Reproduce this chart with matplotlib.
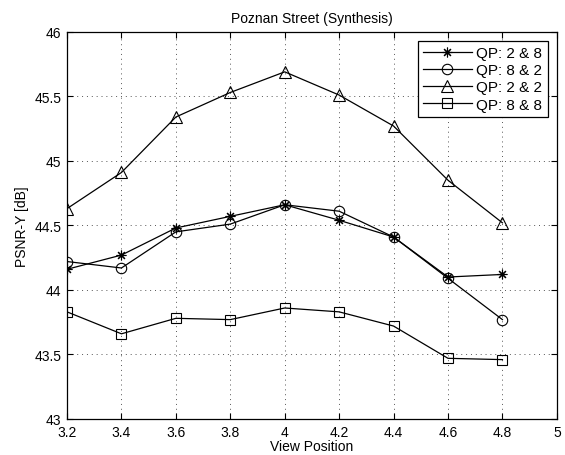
import matplotlib
matplotlib.use('Agg')
import matplotlib.pyplot as plt

view_pos = [3.2, 3.4, 3.6, 3.8, 4.0, 4.2, 4.4, 4.6, 4.8]
qp_2_8 = [44.16, 44.27, 44.48, 44.57, 44.66, 44.54, 44.41, 44.10, 44.12]
qp_8_2 = [44.22, 44.17, 44.45, 44.51, 44.66, 44.61, 44.41, 44.09, 43.77]
qp_2_2 = [44.63, 44.91, 45.34, 45.53, 45.69, 45.51, 45.27, 44.85, 44.52]
qp_8_8 = [43.83, 43.66, 43.78, 43.77, 43.86, 43.83, 43.72, 43.47, 43.46]

x_ticks = [3.2, 3.4, 3.6, 3.8, 4, 4.2, 4.4, 4.6, 4.8, 5]
x_labels = ['3.2', '3.4', '3.6', '3.8', '4', '4.2', '4.4', '4.6', '4.8', '5']
y_ticks = [43, 43.5, 44, 44.5, 45, 45.5, 46]
y_labels = ['43', '43.5', '44', '44.5', '45', '45.5', '46']

plt.rcParams['font.family'] = ['Liberation Sans', 'DejaVu Sans']
plt.rcParams['font.size'] = 10

fig = plt.figure(figsize=(5.65, 4.56), dpi=100)
ax = fig.add_axes([0.1186, 0.079, 0.867, 0.849])

# MATLAB-ish asterisk: 8 spokes
series = [
    (qp_2_8, (8, 2, 0), 7, 'QP: 2 & 8'),
    (qp_8_2, 'o', 7.5, 'QP: 8 & 2'),
    (qp_2_2, '^', 8, 'QP: 2 & 2'),
    (qp_8_8, 's', 7, 'QP: 8 & 8'),
]
for values, marker, msize, label in series:
    ax.plot(view_pos, values, color='black', linewidth=0.9, marker=marker,
            markersize=msize, markerfacecolor='none',
            markeredgecolor='black', markeredgewidth=0.8, label=label)

ax.set_xlim(3.2, 5)
ax.set_ylim(43, 46)
ax.set_xticks(x_ticks)
ax.set_xticklabels(x_labels)
ax.set_yticks(y_ticks)
ax.set_yticklabels(y_labels)
ax.tick_params(direction='in', top=True, right=True, length=4, width=0.8)
ax.tick_params(axis='x', pad=4)
ax.tick_params(axis='y', pad=4)
ax.grid(True, linestyle=(0, (1, 4)), color='#555555', linewidth=0.7)
for spine in ax.spines.values():
    spine.set_linewidth(0.9)

ax.set_title('Poznan Street (Synthesis)', fontsize=10, pad=7)
ax.set_xlabel('View Position', labelpad=0)
ax.set_ylabel('PSNR-Y [dB]', labelpad=4)

leg = ax.legend(loc='upper right', fancybox=False, framealpha=1, edgecolor='black',
                borderaxespad=0.6, handlelength=3.2, labelspacing=0.2,
                handletextpad=0.3, borderpad=0.35, fontsize=11)
leg.get_frame().set_linewidth(0.9)

fig.savefig('out.png', dpi=100)
